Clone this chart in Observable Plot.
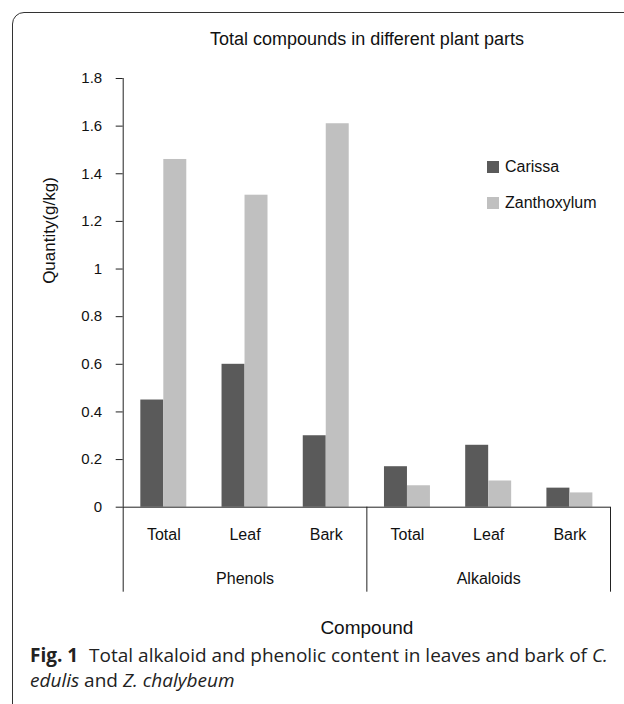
<!DOCTYPE html>
<html>
<head>
<meta charset="utf-8">
<script src="https://cdn.jsdelivr.net/npm/d3@7"></script>
<script src="https://cdn.jsdelivr.net/npm/@observablehq/plot@0.6"></script>
<style>
  html, body { margin: 0; padding: 0; background: #fff; }
  body { width: 624px; height: 704px; position: relative; overflow: hidden; font-family: "Liberation Sans", Arial, sans-serif; color: #111; }
  #frame { position: absolute; left: 12px; top: 12px; width: 700px; height: 800px; border: 1px solid #333; border-top-left-radius: 12px; box-sizing: border-box; }
  #title { position: absolute; left: 0; top: 27px; width: 734px; text-align: center; font-size: 18px; line-height: 24px; }
  #chart { position: absolute; left: 0; top: 0; }
  #legend { position: absolute; left: 487px; top: 157px; font-size: 16px; }
  #legend .item { display: flex; align-items: center; height: 20px; margin-bottom: 16px; }
  #legend .sw { width: 12px; height: 12px; margin-right: 6px; }
  #caption { position: absolute; left: 30px; top: 643px; font-family: "Open Sans", "Noto Sans", sans-serif; font-size: 19px; line-height: 25px; color: #222; white-space: nowrap; }
  #caption b { font-weight: 700; margin-right: 6px; }
</style>
</head>
<body>
<div id="frame"></div>
<div id="title"></div>
<div id="chart"></div>
<div id="legend"></div>
<div id="caption"><b>Fig. 1</b> Total alkaloid and phenolic content in leaves and bark of <i>C.</i><br><i>edulis</i> and <i>Z. chalybeum</i></div>
<script>
const titleText = "Total compounds in different plant parts";
const series = ["Carissa", "Zanthoxylum"];
const seriesColors = ["#5a5a5a", "#c0c0c0"];
const groups = ["Phenols", "Alkaloids"];
const compounds = ["Phenols", "Phenols", "Phenols", "Alkaloids", "Alkaloids", "Alkaloids"];
const parts = ["Total", "Leaf", "Bark", "Total", "Leaf", "Bark"];
const carissa = [0.45, 0.60, 0.30, 0.17, 0.26, 0.08];
const zanthoxylum = [1.46, 1.31, 1.61, 0.09, 0.11, 0.06];
const yTicks = [0, 0.2, 0.4, 0.6, 0.8, 1, 1.2, 1.4, 1.6, 1.8];
const yTickLabels = ["0", "0.2", "0.4", "0.6", "0.8", "1", "1.2", "1.4", "1.6", "1.8"];
const yLabel = "Quantity(g/kg)";
const xLabel = "Compound";

document.getElementById("title").textContent = titleText;

// table built from the arrays
const barFrac = 0.283;
const values = [carissa, zanthoxylum];
const bars = [];
parts.forEach((p, i) => {
  series.forEach((s, k) => {
    const x1 = i + 0.5 + (k - 1) * barFrac;
    bars.push({series: s, part: p, compound: compounds[i], value: values[k][i], x1, x2: x1 + barFrac});
  });
});
const cats = parts.map((p, i) => ({part: p, x: i + 0.5}));
const groupRows = groups.map((g) => {
  const idx = compounds.map((c, i) => c === g ? i : -1).filter(i => i >= 0);
  return {group: g, x: (idx[0] + idx[idx.length - 1] + 1) / 2};
});
const bounds = [0];
groups.forEach((g) => bounds.push(compounds.lastIndexOf(g) + 1));

const chart = Plot.plot({
  width: 624,
  height: 640,
  marginLeft: 122.7,
  marginRight: 14,
  marginTop: 78,
  marginBottom: 133.3,
  style: {fontFamily: "'Liberation Sans', Arial, sans-serif", fontSize: "15px", color: "#111", background: "transparent"},
  x: {domain: [0, parts.length], axis: null},
  y: {domain: [0, 1.8], label: null},
  color: {domain: series, range: seriesColors},
  marks: [
    Plot.rectY(bars, {x1: "x1", x2: "x2", y: "value", fill: "series"}),
    Plot.ruleX([0], {y1: 0, y2: 1.8, stroke: "#222"}),
    Plot.axisY(yTicks, {anchor: "left", tickSize: 7, tickPadding: 14, label: null, fontSize: 15, stroke: "#222", tickFormat: (d) => yTickLabels[yTicks.indexOf(d)]}),
    Plot.ruleY([0], {x1: 0, x2: parts.length, stroke: "#222"}),
    Plot.ruleX(bounds, {y1: 0, y2: 0, insetBottom: -85, stroke: "#222"}),
    Plot.text(cats, {x: "x", y: 0, dy: 28, text: "part", fontSize: 16}),
    Plot.text(groupRows, {x: "x", y: 0, dy: 72, text: "group", fontSize: 16}),
    Plot.text([xLabel], {x: parts.length / 2, y: 0, dy: 121, text: (d) => d, fontSize: 19}),
    Plot.text([yLabel], {frameAnchor: "left", rotate: -90, dx: -74, dy: -9, text: (d) => d, fontSize: 17})
  ]
});
document.getElementById("chart").appendChild(chart);

const legend = document.getElementById("legend");
series.forEach((s, k) => {
  const item = document.createElement("div");
  item.className = "item";
  const sw = document.createElement("span");
  sw.className = "sw";
  sw.style.background = seriesColors[k];
  const t = document.createElement("span");
  t.textContent = s;
  item.appendChild(sw);
  item.appendChild(t);
  legend.appendChild(item);
});
</script>
</body>
</html>
